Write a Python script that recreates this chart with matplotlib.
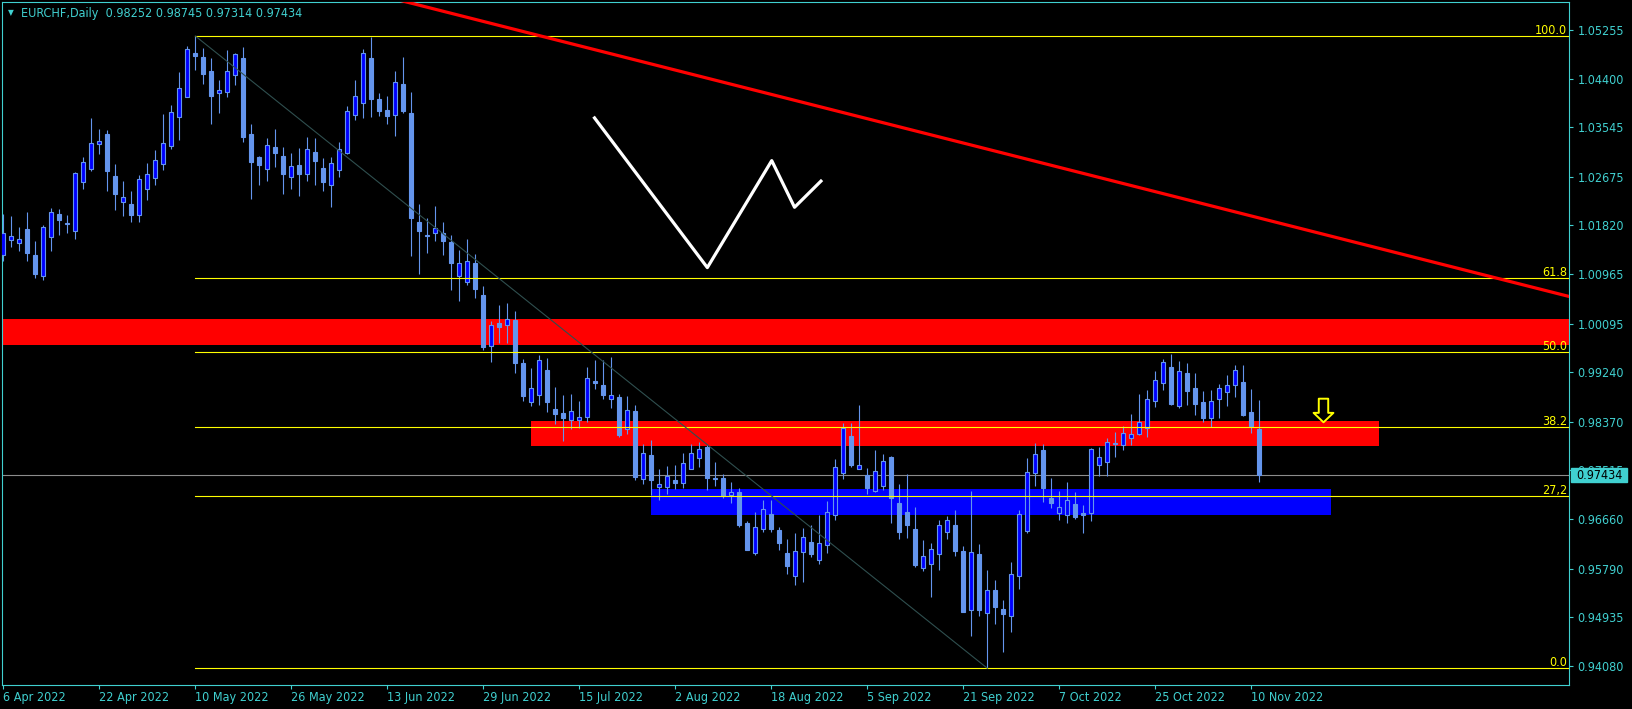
import numpy as np
import pandas as pd
import matplotlib
matplotlib.use('Agg')
import matplotlib.pyplot as plt
import matplotlib.transforms as mtransforms
from matplotlib.patches import Rectangle
from matplotlib.path import Path

plt.rcParams['font.family'] = 'DejaVu Sans'
plt.rcParams['font.stretch'] = 'condensed'
plt.rcParams['font.size'] = 9

# EURCHF diario
dates = pd.bdate_range('2022-04-06', '2022-11-11')

opens = [1.0131, 1.0156, 1.0151, 1.0176, 1.0130, 1.0094, 1.0161, 1.0202, 1.0186, 1.0172,
         1.0258, 1.0282, 1.0326, 1.0343, 1.0269, 1.0223, 1.0220, 1.0200, 1.0247, 1.0265,
         1.0290, 1.0321, 1.0372, 1.0408, 1.0485, 1.0478, 1.0454, 1.0414, 1.0416, 1.0446,
         1.0476, 1.0343, 1.0302, 1.0281, 1.0320, 1.0304, 1.0267, 1.0288, 1.0272, 1.0311,
         1.0283, 1.0253, 1.0279, 1.0309, 1.0377, 1.0397, 1.0476, 1.0404, 1.0385, 1.0376,
         1.0431, 1.0380, 1.0188, 1.0166, 1.0168, 1.0168, 1.0153, 1.0093, 1.0082, 1.0116,
         1.0059, 0.9970, 1.0011, 1.0007, 1.0016, 0.9940, 0.9871, 0.9885, 0.9928, 0.9860,
         0.9853, 0.9841, 0.9840, 0.9846, 0.9908, 0.9901, 0.9877, 0.9881, 0.9825, 0.9856,
         0.9736, 0.9779, 0.9723, 0.9723, 0.9735, 0.9729, 0.9755, 0.9773, 0.9793, 0.9739,
         0.9738, 0.9708, 0.9714, 0.9659, 0.9607, 0.9649, 0.9675, 0.9647, 0.9607, 0.9566,
         0.9608, 0.9625, 0.9595, 0.9620, 0.9673, 0.9747, 0.9812, 0.9754, 0.9743, 0.9716,
         0.9725, 0.9775, 0.9694, 0.9679, 0.9648, 0.9581, 0.9588, 0.9604, 0.9643, 0.9655,
         0.9610, 0.9506, 0.9605, 0.9501, 0.9541, 0.9509, 0.9495, 0.9566, 0.9646, 0.9747,
         0.9788, 0.9704, 0.9676, 0.9673, 0.9692, 0.9676, 0.9676, 0.9762, 0.9766, 0.9799,
         0.9796, 0.9809, 0.9816, 0.9826, 0.9874, 0.9905, 0.9933, 0.9865, 0.9923, 0.9896,
         0.9872, 0.9844, 0.9877, 0.9890, 0.9901, 0.9907, 0.9854, 0.98252]
highs = [1.0203, 1.0199, 1.0179, 1.0206, 1.0155, 1.0183, 1.0213, 1.0211, 1.0200, 1.0276,
         1.0302, 1.0371, 1.0352, 1.0349, 1.0290, 1.0260, 1.0243, 1.0271, 1.0292, 1.0315,
         1.0378, 1.0394, 1.0452, 1.0497, 1.0515, 1.0494, 1.0476, 1.0438, 1.0490, 1.0485,
         1.0496, 1.0360, 1.0304, 1.0336, 1.0352, 1.0320, 1.0309, 1.0318, 1.0338, 1.0336,
         1.0301, 1.0302, 1.0329, 1.0392, 1.0438, 1.0492, 1.0514, 1.0415, 1.0410, 1.0454,
         1.0478, 1.0417, 1.0220, 1.0195, 1.0216, 1.0188, 1.0166, 1.0139, 1.0158, 1.0132,
         1.0075, 1.0014, 1.0042, 1.0045, 1.0032, 0.9947, 0.9931, 0.9954, 0.9949, 0.9898,
         0.9884, 0.9886, 0.9874, 0.9933, 0.9945, 0.9945, 0.9951, 0.9886, 0.9882, 0.9867,
         0.9798, 0.9805, 0.9754, 0.9759, 0.9762, 0.9782, 0.9798, 0.9801, 0.9796, 0.9767,
         0.9746, 0.9731, 0.9721, 0.9663, 0.9679, 0.9700, 0.9700, 0.9653, 0.9631, 0.9641,
         0.9651, 0.9655, 0.9673, 0.9698, 0.9772, 0.9835, 0.9835, 0.9867, 0.9756, 0.9788,
         0.9780, 0.9777, 0.9728, 0.9745, 0.9687, 0.9629, 0.9624, 0.9665, 0.9672, 0.9682,
         0.9619, 0.9715, 0.9622, 0.9576, 0.9559, 0.9524, 0.9591, 0.9682, 0.9773, 0.9800,
         0.9798, 0.9738, 0.9715, 0.9731, 0.9713, 0.9690, 0.9791, 0.9793, 0.9809, 0.9819,
         0.9829, 0.9851, 0.9886, 0.9893, 0.9926, 0.9947, 0.9956, 0.9944, 0.9940, 0.9923,
         0.9892, 0.9893, 0.9904, 0.9919, 0.9937, 0.9937, 0.9895, 0.98745]
lows = [1.0120, 1.0145, 1.0138, 1.0120, 1.0089, 1.0087, 1.0138, 1.0166, 1.0169, 1.0159,
        1.0247, 1.0278, 1.0307, 1.0243, 1.0210, 1.0198, 1.0189, 1.0189, 1.0227, 1.0254,
        1.0280, 1.0317, 1.0332, 1.0407, 1.0456, 1.0431, 1.0360, 1.0379, 1.0407, 1.0429,
        1.0329, 1.0229, 1.0254, 1.0261, 1.0285, 1.0238, 1.0247, 1.0233, 1.0261, 1.0254,
        1.0243, 1.0215, 1.0268, 1.0307, 1.0368, 1.0371, 1.0372, 1.0375, 1.0361, 1.0340,
        1.0380, 1.0129, 1.0097, 1.0134, 1.0155, 1.0131, 1.0068, 1.0050, 1.0078, 1.0055,
        0.9964, 0.9943, 0.9975, 0.9975, 0.9923, 0.9874, 0.9864, 0.9866, 0.9855, 0.9834,
        0.9804, 0.9824, 0.9826, 0.9836, 0.9895, 0.9877, 0.9862, 0.9811, 0.9816, 0.9735,
        0.9728, 0.9708, 0.9699, 0.9711, 0.9719, 0.9721, 0.9754, 0.9758, 0.9718, 0.9725,
        0.9704, 0.9694, 0.9653, 0.9611, 0.9603, 0.9644, 0.9644, 0.9612, 0.9570, 0.9551,
        0.9556, 0.9600, 0.9588, 0.9607, 0.9665, 0.9737, 0.9758, 0.9754, 0.9710, 0.9714,
        0.9717, 0.9659, 0.9631, 0.9633, 0.9582, 0.9575, 0.9529, 0.9577, 0.9632, 0.9601,
        0.9503, 0.9461, 0.9496, 0.9405, 0.9482, 0.9433, 0.9468, 0.9543, 0.9642, 0.9724,
        0.9697, 0.9686, 0.9665, 0.9660, 0.9667, 0.9642, 0.9662, 0.9741, 0.9741, 0.9776,
        0.9788, 0.9796, 0.9813, 0.9811, 0.9863, 0.9893, 0.9867, 0.9862, 0.9867, 0.9849,
        0.9836, 0.9828, 0.9843, 0.9864, 0.9881, 0.9847, 0.9818, 0.97314]
closes = [1.0168, 1.0164, 1.0158, 1.0133, 1.0097, 1.0179, 1.0205, 1.0192, 1.0184, 1.0274,
          1.0294, 1.0327, 1.0331, 1.0277, 1.0238, 1.0232, 1.0201, 1.0264, 1.0273, 1.0297,
          1.0327, 1.0381, 1.0424, 1.0492, 1.0480, 1.0449, 1.0410, 1.0420, 1.0454, 1.0483,
          1.0338, 1.0294, 1.0289, 1.0323, 1.0310, 1.0273, 1.0286, 1.0273, 1.0316, 1.0296,
          1.0259, 1.0291, 1.0316, 1.0383, 1.0410, 1.0485, 1.0405, 1.0384, 1.0375, 1.0434,
          1.0383, 1.0196, 1.0173, 1.0164, 1.0177, 1.0155, 1.0116, 1.0116, 1.0119, 1.0071,
          0.9968, 1.0008, 1.0003, 1.0017, 0.9941, 0.9883, 0.9896, 0.9945, 0.9871, 0.9850,
          0.9843, 0.9856, 0.9845, 0.9914, 0.9906, 0.9885, 0.9885, 0.9814, 0.9858, 0.9740,
          0.9783, 0.9735, 0.9728, 0.9742, 0.9730, 0.9764, 0.9783, 0.9789, 0.9739, 0.9737,
          0.9706, 0.9714, 0.9655, 0.9612, 0.9653, 0.9683, 0.9649, 0.9624, 0.9583, 0.9610,
          0.9634, 0.9605, 0.9624, 0.9678, 0.9757, 0.9827, 0.9762, 0.9762, 0.9720, 0.9750,
          0.9769, 0.9703, 0.9644, 0.9655, 0.9585, 0.9602, 0.9613, 0.9655, 0.9664, 0.9610,
          0.9503, 0.9608, 0.9507, 0.9541, 0.9512, 0.9500, 0.9569, 0.9675, 0.9748, 0.9780,
          0.9720, 0.9695, 0.9687, 0.9699, 0.9670, 0.9674, 0.9789, 0.9775, 0.9801, 0.9798,
          0.9817, 0.9815, 0.9836, 0.9878, 0.9910, 0.9942, 0.9869, 0.9926, 0.9892, 0.9869,
          0.9844, 0.9873, 0.9896, 0.9901, 0.9928, 0.9849, 0.9830, 0.97434]

tick_labels = ['6 Apr 2022', '22 Apr 2022', '10 May 2022', '26 May 2022', '13 Jun 2022',
               '29 Jun 2022', '15 Jul 2022', '2 Aug 2022', '18 Aug 2022', '5 Sep 2022',
               '21 Sep 2022', '7 Oct 2022', '25 Oct 2022', '10 Nov 2022']
price_ticks = [1.05255, 1.04400, 1.03545, 1.02675, 1.01820, 1.00965, 1.00095,
               0.99240, 0.98370, 0.97515, 0.96660, 0.95790, 0.94935, 0.94080]

# Fibonacci (10 May -> minima de setembro)
fib_high = 1.0515
fib_low = 0.9404
fib_start = 24
fib_end = 123
fib_levels = [0.0, 27.2, 38.2, 50.0, 61.8, 100.0]
fib_names = ['0.0', '27,2', '38.2', '50.0', '61.8', '100.0']

# zonas (barra inicial, barra final, preco baixo, preco alto)
zone_x0 = [0, 66, 81]
zone_x1 = [230, 172, 166]
zone_lo = [0.9972, 0.9795, 0.9673]
zone_hi = [1.0018, 0.98385, 0.9719]
zone_cor = ['#FF0000', '#FF0000', '#0000FF']

# linha de tendencia vermelha e zigue-zague branco
trend_x = [20, 200]
trend_y = [1.0683, 1.0042]
zig_x = [73.9, 88.0, 96.05, 98.9, 102.2]
zig_y = [1.0371, 1.0108, 1.0296, 1.0214, 1.0260]
seta_x, seta_y = 165.0, 0.98574

teal = '#40D0D0'
barcor = '#6495ED'

fig = plt.figure(figsize=(16.33, 7.09), dpi=100, facecolor='black')
ax = fig.add_axes([2 / 1633, 24 / 709, 1567 / 1633, 683 / 709], facecolor='black')
ax.set_xlim(-0.16, 195.7)
ax.set_ylim(0.93746, 1.05747)

x = np.arange(len(dates))
o = np.array(opens)
h = np.array(highs)
l = np.array(lows)
c = np.array(closes)
up = c >= o

# zonas
for x0, x1, lo, hi, cor in zip(zone_x0, zone_x1, zone_lo, zone_hi, zone_cor):
    ax.add_patch(Rectangle((x0, lo), x1 - x0, hi - lo, color=cor, lw=0, zorder=1))

# linha do preco atual
ax.axhline(c[-1], color='#8C8C8C', lw=0.8, zorder=2)

# velas
ax.vlines(x, l, h, color=barcor, lw=0.8, zorder=3)
base = np.minimum(o, c)
alt = np.maximum(np.abs(c - o), 0.00003)
ax.bar(x[up], alt[up], bottom=base[up], width=0.5, color='#0000FF',
       edgecolor=barcor, linewidth=0.8, zorder=4)
ax.bar(x[~up], alt[~up], bottom=base[~up], width=0.5, color=barcor,
       edgecolor=barcor, linewidth=0.8, zorder=4)

# fibo
trans = mtransforms.blended_transform_factory(ax.transAxes, ax.transData)
for lev, nome in zip(fib_levels, fib_names):
    p = fib_low + (fib_high - fib_low) * lev / 100
    ax.plot([fib_start, 300], [p, p], color='#FFFF00', lw=0.8, zorder=5)
    ax.annotate(nome, xy=(1, p), xycoords=trans, xytext=(-1.5, 1.4),
                textcoords='offset points', ha='right', va='baseline',
                color='#FFFF00', fontsize=9, zorder=8)
ax.plot([fib_start, fib_end], [fib_high, fib_low], color='#2F4F4F', lw=0.8, zorder=5)

ax.plot(trend_x, trend_y, color='#FF0000', lw=2.3, zorder=6, solid_capstyle='butt')
ax.plot(zig_x, zig_y, color='white', lw=2.3, zorder=6)

# seta amarela
seta = Path([(-0.4, 1), (0.4, 1), (0.4, -0.2), (0.84, -0.2), (0, -1),
             (-0.84, -0.2), (-0.4, -0.2), (-0.4, 1)], closed=True)
ax.plot([seta_x], [seta_y], marker=seta, markersize=17, mfc='none',
        mec='#FFFF00', mew=1.4, zorder=7)

# eixos
for s in ax.spines.values():
    s.set_color(teal)
    s.set_linewidth(0.8)
ax.yaxis.tick_right()
ax.set_yticks(price_ticks)
ax.set_yticklabels([f'{p:.5f}' for p in price_ticks])
ax.tick_params(axis='y', direction='out', length=3, width=0.8, color=teal,
               labelcolor=teal, pad=3, labelsize=9)
tick_pos = [dates.get_loc(pd.to_datetime(t, format='%d %b %Y')) for t in tick_labels]
ax.set_xticks(tick_pos)
ax.set_xticklabels(tick_labels)
ax.tick_params(axis='x', direction='out', length=3, width=0.8, color=teal,
               labelcolor=teal, pad=1.5, labelsize=9)
for lab in ax.get_xticklabels():
    lab.set_horizontalalignment('left')

# caixa do preco atual
ancora = trans.transform((1.0, c[-1]))
fig.patches.append(Rectangle((ancora[0] + 2, ancora[1] - 7), 56, 14, color=teal,
                             transform=mtransforms.IdentityTransform(), zorder=10))
fig.text((ancora[0] + 7) / 1633, ancora[1] / 709, f'{c[-1]:.5f}', color='black',
         ha='left', va='center', fontsize=9, zorder=11)

# cabecalho
fig.text(11 / 1633, 1 - 12.5 / 709, '▼', color=teal, ha='center', va='center', fontsize=6)
fig.text(21 / 1633, 1 - 13 / 709,
         f'EURCHF,Daily  {o[-1]:.5f} {h[-1]:.5f} {l[-1]:.5f} {c[-1]:.5f}',
         color=teal, ha='left', va='center', fontsize=9)

fig.savefig('out.png', dpi=100, facecolor='black')
